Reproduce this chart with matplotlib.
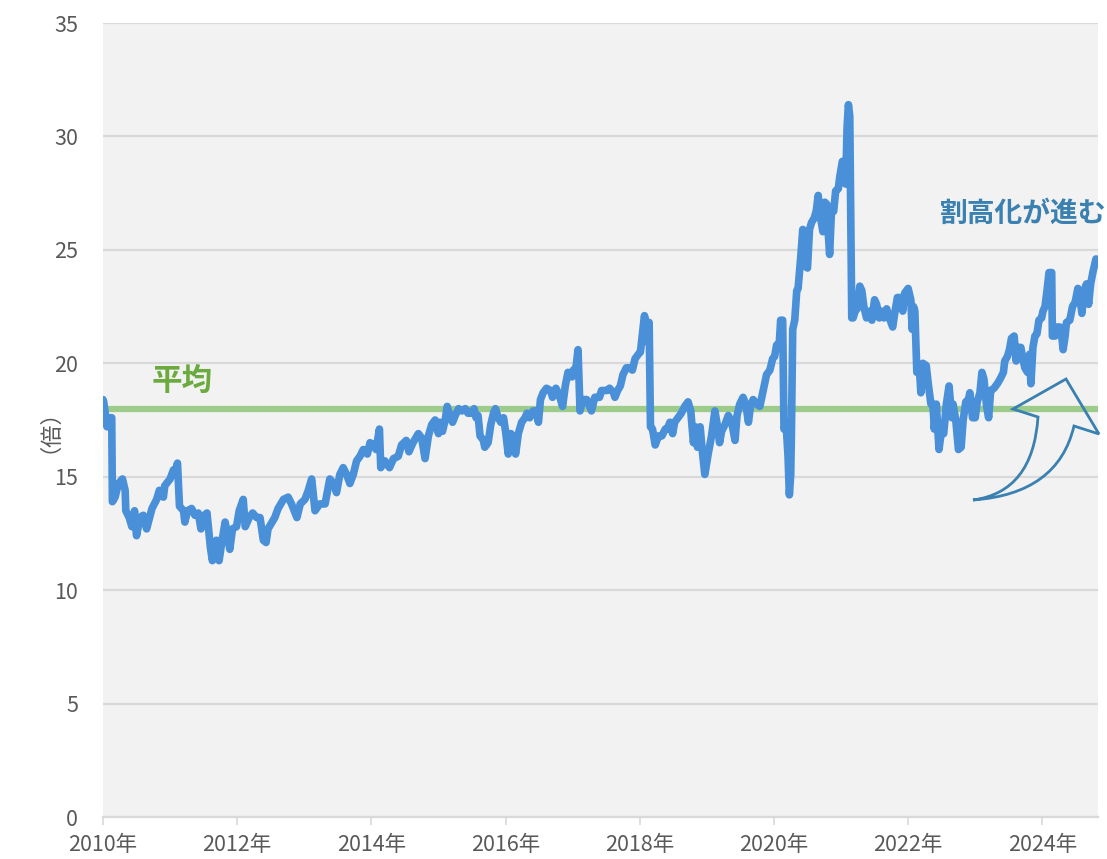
import matplotlib
matplotlib.use("Agg")
import matplotlib.pyplot as plt
from matplotlib.path import Path
from matplotlib.patches import PathPatch

plt.rcParams['font.family'] = ['Noto Sans CJK JP', 'DejaVu Sans']

# decimal-year positions and PER values (倍)
years = [2010.00, 2010.01, 2010.06, 2010.08, 2010.13, 2010.14, 2010.18, 2010.23, 2010.29, 2010.33,
         2010.34, 2010.39, 2010.43, 2010.47, 2010.50, 2010.55, 2010.60, 2010.65, 2010.73, 2010.80,
         2010.84, 2010.90, 2010.92, 2011.00, 2011.05, 2011.07, 2011.11, 2011.14, 2011.20, 2011.22,
         2011.26, 2011.32, 2011.37, 2011.42, 2011.46, 2011.51, 2011.55, 2011.60, 2011.63, 2011.69,
         2011.73, 2011.77, 2011.82, 2011.84, 2011.89, 2011.93, 2011.99, 2012.03, 2012.09, 2012.12,
         2012.18, 2012.23, 2012.29, 2012.34, 2012.39, 2012.43, 2012.46, 2012.56, 2012.61, 2012.69,
         2012.76, 2012.81, 2012.89, 2012.94, 2013.01, 2013.06, 2013.11, 2013.16, 2013.23, 2013.31,
         2013.38, 2013.44, 2013.48, 2013.53, 2013.58, 2013.63, 2013.68, 2013.73, 2013.78, 2013.83,
         2013.88, 2013.94, 2013.98, 2014.03, 2014.07, 2014.12, 2014.14, 2014.20, 2014.27, 2014.33,
         2014.40, 2014.45, 2014.52, 2014.56, 2014.62, 2014.70, 2014.75, 2014.80, 2014.85, 2014.90,
         2014.95, 2015.00, 2015.02, 2015.06, 2015.10, 2015.13, 2015.17, 2015.21, 2015.25, 2015.30,
         2015.35, 2015.40, 2015.44, 2015.49, 2015.53, 2015.56, 2015.59, 2015.62, 2015.67, 2015.69,
         2015.74, 2015.78, 2015.82, 2015.85, 2015.89, 2015.93, 2015.97, 2016.00, 2016.04, 2016.08,
         2016.11, 2016.15, 2016.19, 2016.24, 2016.29, 2016.32, 2016.36, 2016.41, 2016.46, 2016.49,
         2016.52, 2016.56, 2016.61, 2016.67, 2016.70, 2016.75, 2016.80, 2016.85, 2016.89, 2016.93,
         2016.99, 2017.01, 2017.05, 2017.08, 2017.11, 2017.15, 2017.21, 2017.28, 2017.33, 2017.40,
         2017.43, 2017.51, 2017.55, 2017.61, 2017.63, 2017.67, 2017.71, 2017.75, 2017.80, 2017.85,
         2017.89, 2017.93, 2017.98, 2018.01, 2018.04, 2018.07, 2018.10, 2018.13, 2018.14, 2018.16,
         2018.19, 2018.23, 2018.28, 2018.33, 2018.38, 2018.41, 2018.45, 2018.49, 2018.52, 2018.57,
         2018.62, 2018.67, 2018.72, 2018.76, 2018.80, 2018.83, 2018.86, 2018.90, 2018.93, 2018.97,
         2019.02, 2019.07, 2019.12, 2019.16, 2019.19, 2019.22, 2019.27, 2019.32, 2019.37, 2019.42,
         2019.45, 2019.49, 2019.54, 2019.58, 2019.62, 2019.65, 2019.69, 2019.74, 2019.79, 2019.84,
         2019.89, 2019.94, 2019.98, 2020.01, 2020.04, 2020.08, 2020.10, 2020.13, 2020.15, 2020.18,
         2020.21, 2020.23, 2020.25, 2020.26, 2020.28, 2020.31, 2020.34, 2020.36, 2020.40, 2020.43,
         2020.46, 2020.50, 2020.53, 2020.56, 2020.60, 2020.63, 2020.66, 2020.69, 2020.73, 2020.76,
         2020.79, 2020.81, 2020.83, 2020.86, 2020.89, 2020.92, 2020.96, 2020.98, 2021.02, 2021.04,
         2021.07, 2021.09, 2021.11, 2021.13, 2021.14, 2021.16, 2021.18, 2021.21, 2021.24, 2021.28,
         2021.31, 2021.34, 2021.38, 2021.43, 2021.46, 2021.50, 2021.53, 2021.57, 2021.60, 2021.64,
         2021.68, 2021.72, 2021.77, 2021.80, 2021.84, 2021.88, 2021.92, 2021.95, 2022.00, 2022.04,
         2022.06, 2022.08, 2022.10, 2022.13, 2022.17, 2022.19, 2022.22, 2022.27, 2022.30, 2022.34,
         2022.37, 2022.39, 2022.42, 2022.46, 2022.50, 2022.53, 2022.57, 2022.61, 2022.65, 2022.67,
         2022.71, 2022.75, 2022.79, 2022.82, 2022.86, 2022.90, 2022.92, 2022.96, 2023.00, 2023.03,
         2023.07, 2023.10, 2023.13, 2023.17, 2023.20, 2023.23, 2023.28, 2023.33, 2023.37, 2023.42,
         2023.44, 2023.48, 2023.51, 2023.54, 2023.58, 2023.61, 2023.64, 2023.68, 2023.71, 2023.74,
         2023.78, 2023.81, 2023.83, 2023.86, 2023.89, 2023.92, 2023.95, 2023.99, 2024.01, 2024.04,
         2024.07, 2024.10, 2024.14, 2024.15, 2024.19, 2024.22, 2024.26, 2024.29, 2024.31, 2024.34,
         2024.36, 2024.41, 2024.45, 2024.49, 2024.53, 2024.56, 2024.59, 2024.62, 2024.66, 2024.69,
         2024.72, 2024.76, 2024.80, 2024.83]

per = [18.4, 18.3, 17.2, 17.6, 17.6, 13.9, 14.1, 14.7, 14.9, 14.4,
       13.5, 13.2, 12.8, 13.5, 12.4, 13.2, 13.3, 12.7, 13.6, 14.0,
       14.4, 14.1, 14.6, 14.9, 15.3, 15.1, 15.6, 13.7, 13.5, 13.0,
       13.5, 13.6, 13.3, 13.4, 12.7, 13.3, 13.4, 11.9, 11.3, 12.2,
       11.3, 12.1, 13.0, 12.7, 11.8, 12.7, 12.8, 13.5, 14.0, 12.8,
       13.2, 13.4, 13.2, 13.2, 12.2, 12.1, 12.7, 13.2, 13.6, 14.0,
       14.1, 13.8, 13.2, 13.8, 14.0, 14.4, 14.9, 13.5, 13.8, 13.8,
       14.9, 14.7, 14.3, 15.1, 15.4, 15.1, 14.7, 15.1, 15.7, 15.9,
       16.2, 16.0, 16.5, 16.4, 16.2, 17.1, 15.4, 15.7, 15.4, 15.8,
       15.9, 16.4, 16.6, 16.1, 16.5, 16.9, 16.7, 15.8, 16.8, 17.3,
       17.5, 16.9, 17.4, 17.0, 17.5, 18.1, 17.7, 17.4, 17.7, 18.0,
       17.9, 18.0, 17.8, 17.8, 18.0, 17.6, 17.7, 16.8, 16.6, 16.3,
       16.5, 17.3, 17.8, 18.0, 17.6, 17.4, 17.6, 17.0, 16.0, 16.9,
       16.6, 16.0, 16.9, 17.4, 17.6, 17.8, 17.6, 17.9, 17.9, 17.4,
       18.4, 18.7, 18.9, 18.8, 18.5, 18.9, 18.6, 18.1, 19.0, 19.6,
       19.4, 19.7, 19.8, 20.6, 17.9, 18.4, 18.4, 17.9, 18.5, 18.5,
       18.8, 18.8, 18.9, 18.7, 18.5, 18.8, 19.0, 19.5, 19.8, 19.8,
       19.7, 20.2, 20.4, 20.5, 21.3, 22.1, 21.7, 20.9, 21.8, 17.2,
       17.1, 16.4, 16.8, 16.8, 17.1, 17.1, 17.4, 16.9, 17.4, 17.6,
       17.8, 18.1, 18.3, 17.9, 16.5, 17.2, 16.3, 17.2, 16.2, 15.1,
       16.0, 16.8, 17.9, 17.2, 16.5, 17.0, 17.3, 17.7, 17.4, 16.6,
       17.7, 18.2, 18.5, 18.2, 17.4, 18.1, 18.4, 18.2, 18.1, 18.8,
       19.5, 19.7, 20.2, 20.3, 20.8, 20.9, 21.9, 21.9, 17.1, 17.4,
       15.9, 14.2, 15.1, 16.8, 21.5, 21.9, 23.2, 23.3, 24.7, 25.9,
       24.3, 24.2, 25.9, 26.2, 26.4, 26.7, 27.4, 26.5, 25.8, 27.1,
       27.0, 25.7, 24.8, 26.9, 26.7, 27.6, 27.7, 28.2, 28.9, 28.8,
       27.9, 30.4, 31.4, 30.9, 27.9, 22.0, 22.0, 22.3, 22.4, 23.4,
       23.2, 22.5, 22.0, 22.3, 21.9, 22.8, 22.6, 22.0, 22.3, 22.0,
       22.4, 22.0, 21.6, 22.2, 22.9, 22.9, 22.3, 23.1, 23.3, 22.8,
       21.5, 22.5, 22.3, 19.6, 19.7, 18.7, 20.0, 19.9, 19.1, 18.2,
       18.2, 17.1, 18.2, 16.2, 17.1, 16.9, 18.2, 19.0, 17.6, 18.2,
       17.5, 16.2, 16.3, 17.5, 18.3, 18.4, 18.7, 17.6, 17.6, 18.3,
       18.7, 19.6, 19.3, 18.1, 17.6, 18.8, 18.9, 19.1, 19.3, 19.6,
       20.1, 20.3, 20.6, 21.1, 21.2, 20.1, 20.7, 20.7, 20.2, 19.8,
       19.6, 20.4, 19.1, 20.7, 21.2, 21.3, 21.9, 22.0, 22.3, 22.5,
       23.2, 24.0, 24.0, 21.2, 21.2, 21.6, 21.6, 21.2, 20.6, 21.2,
       21.8, 21.9, 22.5, 22.7, 23.3, 22.9, 22.2, 23.2, 23.5, 22.6,
       23.5, 24.1, 24.6, 24.4]

average = 18.0
x_ticks = [2010, 2012, 2014, 2016, 2018, 2020, 2022, 2024]
x_labels = [f"{y}年" for y in x_ticks]
y_ticks = [0, 5, 10, 15, 20, 25, 30, 35]

fig = plt.figure(figsize=(11.07, 8.59), dpi=100)
ax = fig.add_axes([103 / 1107, 42 / 859, 995 / 1107, 794 / 859])
ax.set_facecolor('#f2f2f2')

ax.set_xlim(2010, 2024.83)
ax.set_ylim(0, 35)
ax.set_yticks(y_ticks)
ax.set_xticks(x_ticks)
ax.set_xticklabels(x_labels)
ax.grid(axis='y', color='#d9d9d9', linewidth=1.6)
ax.set_axisbelow(True)
for s in ['top', 'right', 'left']:
    ax.spines[s].set_visible(False)
ax.spines['bottom'].set_color('#d9d9d9')
ax.spines['bottom'].set_linewidth(1.6)
ax.tick_params(axis='y', length=0, pad=18, labelsize=15.5, labelcolor='#595959')
ax.tick_params(axis='x', length=6, width=1.2, color='#d9d9d9', pad=6, labelsize=15.5,
               labelcolor='#595959')

ax.axhline(average, color='#9dcb8a', linewidth=4.5, zorder=2)
ax.plot(years, per, color='#4a90d9', linewidth=5.5, solid_joinstyle='round',
        solid_capstyle='round', zorder=3)

ax.text(2010.72, 19.2, '平均', color='#6aaa3f', fontsize=22, fontweight='bold',
        ha='left', va='center')
ax.text(2024.96, 26.6, '割高化が進む', color='#3a80b0', fontsize=20, fontweight='bold',
        ha='right', va='center', clip_on=False)

fig.text(38 / 1107, 1 - 420 / 859, '（倍）', rotation=90, fontsize=16, color='#595959',
         ha='center', va='center')

# curved arrow shape (axes-fraction coordinates)
def af(px, py):
    return ((px - 103) / 995, (817 - py) / 794)

verts = [af(973, 500), af(1033, 492), af(1038, 417),
         af(1013, 409), af(1066, 379), af(1099, 434), af(1074, 426),
         af(1058, 494), af(973, 500), af(973, 500)]
codes = [Path.MOVETO, Path.CURVE3, Path.CURVE3,
         Path.LINETO, Path.LINETO, Path.LINETO, Path.LINETO,
         Path.CURVE3, Path.CURVE3, Path.CLOSEPOLY]
arrow = PathPatch(Path(verts, codes), transform=ax.transAxes, facecolor='none',
                  edgecolor='#3a80b0', linewidth=2, clip_on=False, zorder=4)
ax.add_patch(arrow)

fig.savefig('out.png', dpi=100)
